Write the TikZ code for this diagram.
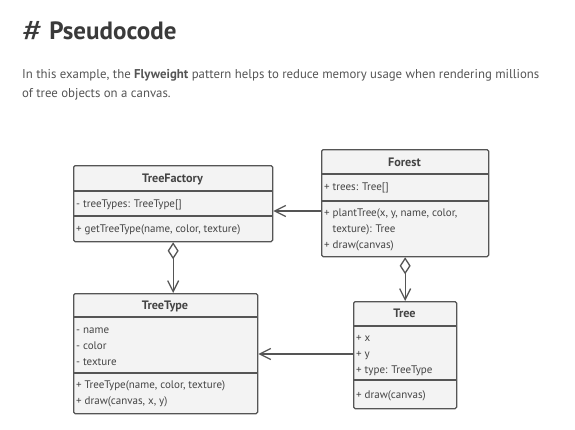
\documentclass[tikz,border=0pt]{standalone}
\usepackage{fontspec}
\setmainfont{PT Sans}
\usetikzlibrary{arrows.meta,calc}
\definecolor{txt}{HTML}{444444}
\definecolor{htxt}{HTML}{3A3A3A}
\definecolor{ptxt}{HTML}{555555}
\definecolor{line}{HTML}{555555}
\definecolor{boxfill}{HTML}{F3F3F3}
\begin{document}
\begin{tikzpicture}[x=1pt,y=1pt,
  classbox/.style={draw=line, fill=boxfill, line width=1.3pt, rounded corners=1.5pt, inner sep=0pt, anchor=north west},
  divider/.style={draw=line, line width=1.3pt},
  cname/.style={font=\fontsize{12.2}{14}\selectfont\bfseries, text=txt, inner sep=0pt, anchor=base},
  member/.style={font=\fontsize{11}{16}\selectfont, text=txt, inner sep=0pt, anchor=base west, align=left},
  assoc/.style={draw=line, line width=1.3pt, -{Straight Barb[length=11pt,width=11pt,line width=1.3pt]}},
  aggr/.style={draw=line, line width=1.3pt, {Diamond[open,fill=white,length=17pt,width=11pt,line width=1.3pt]}-{Straight Barb[length=11pt,width=11pt,line width=1.3pt]}}
]
\useasboundingbox (0,0) rectangle (575,-429);
\fill[white] (0,0) rectangle (575,-429);

% heading and paragraph
\node[anchor=base west, inner sep=0pt, text=htxt, font=\fontsize{25}{29}\selectfont] (title) at (22,-39) {\raisebox{-2.5pt}{\scalebox{1.55}[1.25]{\#}}\hspace{6pt}\textbf{Pseudocode}};
\node[anchor=base west, inner sep=0pt, text=ptxt, font=\fontsize{12.8}{19}\selectfont] (para1) at (22,-78) {In this example, the \textbf{Flyweight} pattern helps to reduce memory usage when rendering millions};
\node[anchor=base west, inner sep=0pt, text=ptxt, font=\fontsize{12.8}{19}\selectfont] (para2) at (22,-97) {of tree objects on a canvas.};

% TreeFactory
\node[classbox, minimum width=199pt, minimum height=76pt] (tf) at (73,-165) {};
\draw[divider] (73,-191) -- (272,-191);
\draw[divider] (73,-216) -- (272,-216);
\node[cname] (tfname) at (172.5,-182) {TreeFactory};
\node[member] (tfattr) at (76,-207) {- treeTypes: TreeType[]};
\node[member] (tfmeth) at (76,-232) {+ getTreeType(name, color, texture)};

% Forest
\node[classbox, minimum width=167pt, minimum height=107pt] (forest) at (321,-149) {};
\draw[divider] (321,-174) -- (488,-174);
\draw[divider] (321,-201) -- (488,-201);
\node[cname] (fname) at (404.5,-166) {Forest};
\node[member] (fattr) at (324,-190.5) {+ trees: Tree[]};
\node[member] (fmeth) at (324,-248) {+ plantTree(x, y, name, color,\\\hphantom{+ }texture): Tree\\+ draw(canvas)};

% TreeType
\node[classbox, minimum width=184pt, minimum height=120pt] (tt) at (73,-293) {};
\draw[divider] (73,-317) -- (257,-317);
\draw[divider] (73,-373) -- (257,-373);
\node[cname] (ttname) at (165,-309.5) {TreeType};
\node[member] (ttattr) at (76,-365) {- name\\- color\\- texture};
\node[member] (ttmeth) at (76,-404.5) {+ TreeType(name, color, texture)\\+ draw(canvas, x, y)};

% Tree
\node[classbox, minimum width=103pt, minimum height=107pt] (tree) at (353,-301) {};
\draw[divider] (353,-326) -- (456,-326);
\draw[divider] (353,-380) -- (456,-380);
\node[cname] (treename) at (404.5,-317.5) {Tree};
\node[member] (treeattr) at (356,-373.5) {+ x\\+ y\\+ type: TreeType};
\node[member] (treemeth) at (356,-398.5) {+ draw(canvas)};

% connectors
\coordinate (y1) at (0,-211);
\coordinate (y2) at (0,-354);
\draw[assoc] (forest.west |- y1) -- (tf.east |- y1);
\draw[assoc] (tree.west |- y2) -- (tt.east |- y2);
\draw[aggr] (tf.south) -- (tf.south |- tt.north);
\draw[aggr] (forest.south) -- (tree.north);
\end{tikzpicture}
\end{document}
